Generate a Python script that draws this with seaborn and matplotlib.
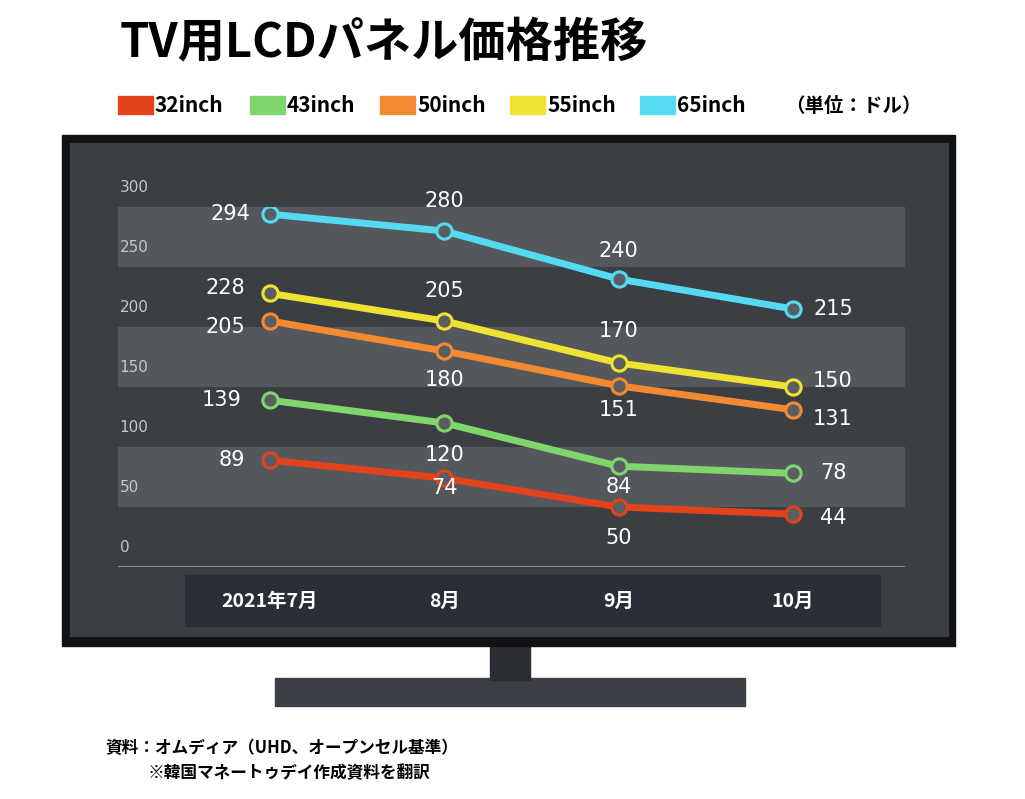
import matplotlib
matplotlib.use("Agg")
import matplotlib.pyplot as plt
import matplotlib.patches as mp
import seaborn as sns
import pandas as pd

plt.rcParams["font.family"] = "Noto Sans CJK JP"

months = ["2021年7月", "8月", "9月", "10月"]
series = ["32inch", "43inch", "50inch", "55inch", "65inch"]
v32 = [89, 74, 50, 44]
v43 = [139, 120, 84, 78]
v50 = [205, 180, 151, 131]
v55 = [228, 205, 170, 150]
v65 = [294, 280, 240, 215]
colors = ["#e2431c", "#80d66c", "#f28a32", "#f0e232", "#55daf2"]
yticks = [0, 50, 100, 150, 200, 250, 300]

vals = [v32, v43, v50, v55, v65]
df = pd.DataFrame([{"x": i, "y": v[i], "s": s} for s, v in zip(series, vals) for i in range(4)])

W, H = 1025, 799
fig = plt.figure(figsize=(W/100, H/100), dpi=100)
fig.patch.set_facecolor("white")

def R(x0, y0, x1, y1, c, z=0):
    fig.patches.append(mp.Rectangle((x0/W, 1-y1/H), (x1-x0)/W, (y1-y0)/H,
                                    transform=fig.transFigure, color=c, zorder=z))

# TV
R(275, 678, 745, 706, "#3c4046")
R(490, 640, 530, 680, "#2a2d31")
R(62, 135, 955, 646, "#111214")
R(70, 143, 948, 636, "#3b3e43")

ax = fig.add_axes([118/W, 1-567/H, (905-118)/W, 360/H])
ax.set_zorder(3)
ax.set_facecolor("none")
sp = (793-270)/3
ax.set_xlim(-(270-118)/sp, (905-270)/sp)
ax.set_ylim(0, 300)
for lo in (250, 150, 50):
    ax.axhspan(lo, lo+50, color="#54575c", zorder=0, lw=0)
ax.axhline(0, color="#8a8d92", lw=1.5)
for t in yticks:
    ax.text(ax.get_xlim()[0]+0.01, t+16, str(t), color="#c8c8c8", fontsize=11, va="center",
            fontfamily="DejaVu Sans")
for s in ax.spines.values():
    s.set_visible(False)
ax.set_xticks([]); ax.set_yticks([])
ax.set_xlabel(""); ax.set_ylabel("")

sns.lineplot(data=df, x="x", y="y", hue="s", palette=dict(zip(series, colors)),
             marker="o", markersize=11, markerfacecolor="#5a5d62", markeredgewidth=2.2,
             lw=5, legend=False, ax=ax, zorder=3)
lines = [l for l in ax.lines if len(l.get_xdata()) == 4]
for l, c in zip(lines, colors):
    l.set_markeredgecolor(c)
ax.set_xlabel(""); ax.set_ylabel("")
ax.set_xticks([]); ax.set_yticks([])

offs = {
    "65inch": [(-40, 0), (0, 30), (0, 28), (40, 0)],
    "55inch": [(-45, 5), (0, 30), (0, 32), (40, 6)],
    "50inch": [(-45, -6), (0, -29), (0, -24), (40, -9)],
    "43inch": [(-48, 0), (0, -32), (0, -21), (40, 0)],
    "32inch": [(-38, 0), (0, -10), (0, -31), (40, -4)],
}
for s, v in zip(series, vals):
    for i in range(4):
        ax.annotate(str(v[i]), (i, v[i]), xytext=offs[s][i], textcoords="offset pixels",
                    color="white", fontsize=15, ha="center", va="center",
                    fontfamily="DejaVu Sans", zorder=5)

R(185, 575, 880, 626, "#2a2e36", 1)
for i, m in enumerate(months):
    fig.text((270+sp*i)/W, 1-601/H, m, color="white", fontsize=14, fontweight="bold",
             ha="center", va="center", zorder=6)

fig.text(120/W, 1-42/H, "TV用LCDパネル価格推移", fontsize=34, fontweight="bold", va="center")
lx = [118, 250, 380, 510, 640]
for x, s, c in zip(lx, series, colors):
    R(x, 96, x+35, 114, c)
    fig.text((x+37)/W, 1-106/H, s, fontsize=15, fontweight="bold", va="center")
fig.text(785/W, 1-106/H, "（単位：ドル）", fontsize=14, fontweight="bold", va="center")
fig.text(105/W, 1-748/H, "資料：オムディア（UHD、オープンセル基準）", fontsize=12, fontweight="bold", va="center")
fig.text(148/W, 1-773/H, "※韓国マネートゥデイ作成資料を翻訳", fontsize=12, fontweight="bold", va="center")

fig.savefig("out.png", dpi=100)
